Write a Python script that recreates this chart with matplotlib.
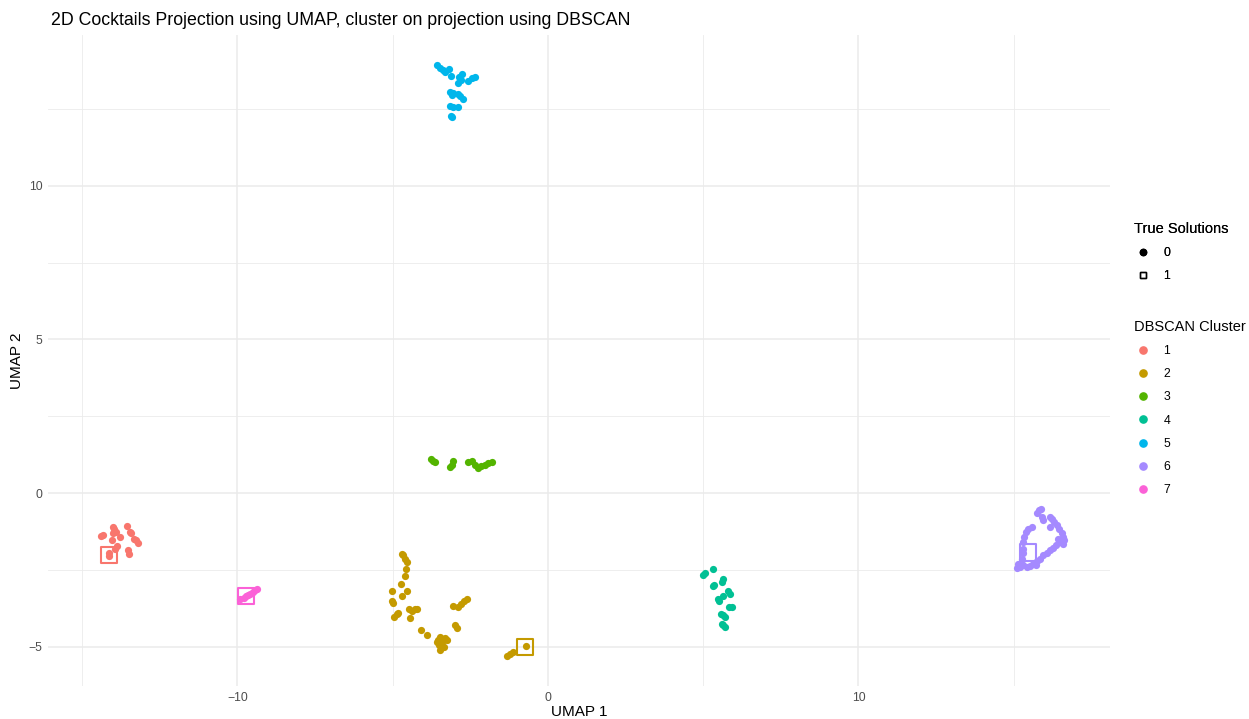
import matplotlib.pyplot as plt
from matplotlib.lines import Line2D

plt.rcParams['font.family'] = ['Liberation Sans', 'DejaVu Sans']

# DBSCAN clusters, points with True Solution = 0
c1_x = [-14.38, -14.32, -14.02, -13.97, -13.91, -14.0, -13.57, -13.46, -13.41, -14.05,
        -13.78, -13.87, -13.95, -13.27, -13.19, -13.33, -14.13, -14.15, -13.52, -13.48]
c1_y = [-1.39, -1.35, -1.10, -1.18, -1.26, -1.28, -1.06, -1.26, -1.31, -1.53,
        -1.44, -1.72, -1.83, -1.51, -1.62, -1.48, -1.94, -2.04, -1.86, -1.97]

c2_x = [-4.71, -4.66, -4.61, -4.55, -4.57, -4.61, -4.73, -4.55, -5.01, -5.03, -5.00,
        -4.71, -4.96, -4.87, -4.82, -4.47, -4.39, -4.28, -4.21, -4.43, -4.10, -3.89,
        -3.05, -2.89, -2.81, -2.71, -2.59, -3.00, -2.92, -3.53, -3.46, -3.32, -3.42,
        -3.50, -3.35, -3.58, -3.26, -3.48, -1.33, -1.22, -1.14, -0.72]
c2_y = [-1.97, -2.02, -2.13, -2.24, -2.45, -2.70, -2.94, -3.18, -3.19, -3.49, -3.57,
        -3.34, -4.03, -3.94, -3.89, -3.78, -3.83, -3.76, -3.75, -4.05, -4.46, -4.60,
        -3.68, -3.70, -3.59, -3.51, -3.44, -4.30, -4.37, -4.77, -4.68, -4.71, -4.84,
        -4.95, -5.01, -4.84, -4.79, -5.11, -5.31, -5.22, -5.18, -4.98]

c3_x = [-3.75, -3.69, -3.64, -3.05, -3.10, -3.16, -2.57, -2.46, -2.35, -2.24, -2.14,
        -2.03, -1.92, -1.81]
c3_y = [1.11, 1.04, 1.00, 1.04, 0.93, 0.86, 1.00, 1.04, 0.93, 0.82, 0.89,
        0.93, 0.97, 1.00]

c4_x = [5.00, 5.06, 5.32, 5.30, 5.35, 5.63, 5.59, 5.49, 5.52, 5.65, 5.81, 5.86,
        5.84, 5.92, 5.56, 5.63, 5.70, 5.59, 5.70, 5.65]
c4_y = [-2.65, -2.58, -2.48, -3.02, -2.97, -2.80, -2.89, -3.43, -3.49, -3.35, -3.19, -3.27,
        -3.70, -3.70, -3.92, -3.97, -4.03, -4.24, -4.35, -4.30]

c5_x = [-3.56, -3.48, -3.39, -3.32, -3.18, -3.12, -2.86, -2.81, -2.91, -2.78, -2.57,
        -2.46, -2.35, -3.16, -3.10, -3.05, -2.89, -2.83, -2.75, -3.16, -3.05, -2.89,
        -3.12, -3.10]
c5_y = [13.91, 13.83, 13.76, 13.70, 13.78, 13.56, 13.53, 13.45, 13.35, 13.62, 13.42,
        13.51, 13.54, 13.05, 12.96, 13.00, 12.99, 12.91, 12.83, 12.58, 12.55, 12.55,
        12.28, 12.22]

c6_x = [15.87, 15.82, 15.76, 15.90, 15.95, 16.17, 16.22, 16.30, 16.38, 16.47, 16.54,
        16.60, 16.62, 16.60, 16.49, 16.44, 16.36, 16.27, 16.17, 16.06, 15.95, 15.85,
        15.76, 15.72, 15.63, 15.52, 15.42, 15.31, 15.20, 15.10, 15.15, 15.26, 15.29,
        15.31, 15.31, 15.33, 15.39, 15.47, 15.58, 16.17]
c6_y = [-0.50, -0.55, -0.66, -0.77, -0.88, -0.77, -0.85, -0.93, -1.04, -1.15, -1.28,
        -1.42, -1.53, -1.64, -1.59, -1.48, -1.69, -1.78, -1.86, -1.93, -2.02, -2.13,
        -2.21, -2.35, -2.29, -2.37, -2.40, -2.35, -2.40, -2.43, -2.29, -2.13, -1.96,
        -1.80, -1.59, -1.42, -1.26, -1.15, -1.10, -1.10]

c7_x = [-9.90, -9.80, -9.72, -9.65, -9.58, -9.50, -9.42, -9.37]
c7_y = [-3.45, -3.40, -3.35, -3.30, -3.27, -3.20, -3.15, -3.12]

# True Solution = 1
sol_x = [-14.14, -0.74, 15.47, -9.71]
sol_y = [-2.01, -5.01, -1.93, -3.34]
sol_cluster = [1, 2, 6, 7]

cluster_labels = ['1', '2', '3', '4', '5', '6', '7']
colors = ['#F8766D', '#C49A00', '#53B400', '#00C094', '#00B6EB', '#A58AFF', '#FB61D7']

clusters_x = [c1_x, c2_x, c3_x, c4_x, c5_x, c6_x, c7_x]
clusters_y = [c1_y, c2_y, c3_y, c4_y, c5_y, c6_y, c7_y]

fig = plt.figure(figsize=(12.49, 7.19), dpi=100)
ax = fig.add_axes([0.0384, 0.0459, 0.8503, 0.9054])

for xs, ys, col in zip(clusters_x, clusters_y, colors):
    ax.scatter(xs, ys, s=27, color=col, linewidths=0, zorder=3)

sol_colors = [colors[c - 1] for c in sol_cluster]
ax.scatter(sol_x, sol_y, s=135, marker='s', facecolors='none',
           edgecolors=sol_colors, linewidths=1.5, zorder=4)

ax.set_xlim(-16.1, 18.1)
ax.set_ylim(-6.27, 14.9)
ax.set_xticks([-10, 0, 10])
ax.set_xticks([-15, -5, 5, 15], minor=True)
ax.set_yticks([-5, 0, 5, 10])
ax.set_yticks([-2.5, 2.5, 7.5, 12.5], minor=True)
ax.grid(True, which='major', color='#EBEBEB', linewidth=1.1)
ax.grid(True, which='minor', color='#EBEBEB', linewidth=0.6)
ax.set_axisbelow(True)
for s in ax.spines.values():
    s.set_visible(False)
ax.tick_params(which='both', length=0, labelsize=8.8, labelcolor='#4D4D4D', pad=4)

ax.set_xlabel('UMAP 1', fontsize=11, labelpad=1)
ax.set_ylabel('UMAP 2', fontsize=11, labelpad=3)
ax.set_title('2D Cocktails Projection using UMAP, cluster on projection using DBSCAN',
             fontsize=12.75, loc='left', pad=7, x=0.003)

# legends
sol_handles = [
    Line2D([], [], marker='o', linestyle='', color='black', markersize=4.5),
    Line2D([], [], marker='s', linestyle='', markerfacecolor='none',
           markeredgecolor='black', markersize=4.5, markeredgewidth=1.0),
]
leg1 = fig.legend(sol_handles, ['0', '1'], title='True Solutions',
                  loc='upper left', bbox_to_anchor=(0.903, 0.7),
                  frameon=False, fontsize=8.8, title_fontsize=10.5,
                  handlelength=1.5, handletextpad=0.9, labelspacing=0.92,
                  alignment='left', borderpad=0)
clu_handles = [Line2D([], [], marker='o', linestyle='', color=c, markersize=5.2)
               for c in colors]
leg2 = fig.legend(clu_handles, cluster_labels, title='DBSCAN Cluster',
                  loc='upper left', bbox_to_anchor=(0.903, 0.564),
                  frameon=False, fontsize=8.8, title_fontsize=10.5,
                  handlelength=1.5, handletextpad=0.9, labelspacing=0.92,
                  alignment='left', borderpad=0)
fig.add_artist(leg1)

fig.savefig('out.png', dpi=100)
